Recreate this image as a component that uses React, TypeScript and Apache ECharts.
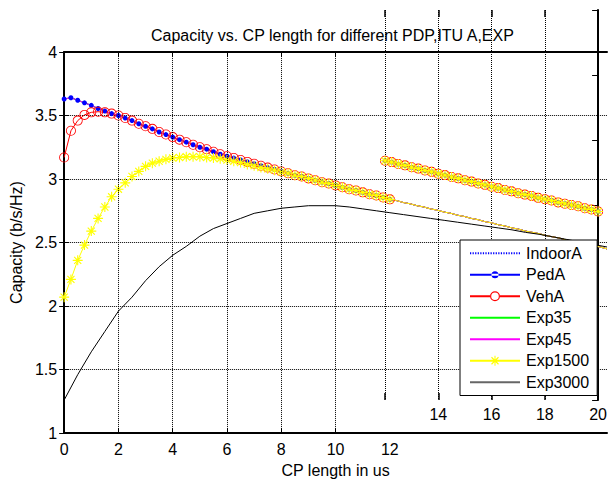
import { useEffect, useRef } from 'react';
import * as echarts from 'echarts';

const TITLE = 'Capacity vs. CP length for different PDP,ITU A,EXP';
const X_NAME = 'CP length in us';
const Y_NAME = 'Capacity (b/s/Hz)';

const seriesNames = ['IndoorA', 'PedA', 'VehA', 'Exp35', 'Exp45', 'Exp1500', 'Exp3000'];
const mainXTickLabels = [0, 2, 4, 6, 8, 10, 12];
const mainXTicks = [0, 2, 4, 6, 8, 10];
const mainXGrid = [2, 4, 6, 8, 10];
const insetXTickLabels = [14, 16, 18, 20];

// CP length samples (us)
const cpFine = [
  0, 0.25, 0.5, 0.75, 1, 1.25, 1.5, 1.75, 2, 2.25, 2.5, 2.75, 3, 3.25, 3.5, 3.75,
  4, 4.25, 4.5, 4.75, 5, 5.25, 5.5, 5.75, 6, 6.25, 6.5, 6.75, 7, 7.25, 7.5, 7.75,
  8, 8.25, 8.5, 8.75, 9, 9.25, 9.5, 9.75, 10, 10.25, 10.5, 10.75, 11, 11.25, 11.5, 11.75,
  12, 12.25, 12.5, 12.75, 13, 13.25, 13.5, 13.75, 14, 14.25, 14.5, 14.75, 15, 15.25, 15.5, 15.75,
  16, 16.25, 16.5, 16.75, 17, 17.25, 17.5, 17.75, 18, 18.25, 18.5, 18.75, 19, 19.25, 19.5, 19.75, 20,
];
const cpCoarse = [
  0, 0.5, 1, 1.5, 2, 2.5, 3, 3.5, 4, 4.5, 5, 5.5, 6, 6.5, 7, 7.5, 8, 8.5, 9, 9.5,
  10, 10.5, 11, 11.5, 12, 12.5, 13, 13.5, 14, 14.5, 15, 15.5, 16, 16.5, 17, 17.5, 18, 18.5, 19, 19.5, 20,
];

const pedA = [
  3.63, 3.64, 3.62, 3.6, 3.58, 3.555, 3.535, 3.515, 3.5, 3.48, 3.46, 3.435, 3.415, 3.395, 3.37, 3.35,
  3.33, 3.31, 3.29, 3.27, 3.25, 3.235, 3.215, 3.195, 3.18, 3.165, 3.15, 3.135, 3.12, 3.105, 3.09, 3.075,
  3.06, 3.045, 3.03, 3.02, 3.005, 2.99, 2.975, 2.965, 2.95, 2.935, 2.92, 2.91, 2.895, 2.88, 2.87, 2.855,
  2.84, 2.83, 2.815, 2.805, 2.79, 2.78, 2.765, 2.755, 2.74, 2.73, 2.715, 2.705, 2.69, 2.68, 2.665, 2.655,
  2.64, 2.63, 2.615, 2.605, 2.59, 2.58, 2.57, 2.555, 2.545, 2.535, 2.52, 2.51, 2.5, 2.49, 2.475, 2.465, 2.45,
];
const indoorA = pedA;
const exp35 = pedA;
const exp45 = pedA;
const vehA = [
  3.17, 3.38, 3.46, 3.505, 3.525, 3.53, 3.525, 3.515, 3.5, 3.48, 3.46, 3.435, 3.415, 3.395, 3.37, 3.35,
  3.33, 3.31, 3.29, 3.27, 3.25, 3.235, 3.215, 3.195, 3.18, 3.165, 3.15, 3.135, 3.12, 3.105, 3.09, 3.075,
  3.06, 3.045, 3.03, 3.02, 3.005, 2.99, 2.975, 2.965, 2.95, 2.935, 2.92, 2.91, 2.895, 2.88, 2.87, 2.855,
  2.84, 2.83, 2.815, 2.805, 2.79, 2.78, 2.765, 2.755, 2.74, 2.73, 2.715, 2.705, 2.69, 2.68, 2.665, 2.655,
  2.64, 2.63, 2.615, 2.605, 2.59, 2.58, 2.57, 2.555, 2.545, 2.535, 2.52, 2.51, 2.5, 2.49, 2.475, 2.465, 2.45,
];
const exp1500 = [
  2.07, 2.21, 2.36, 2.48, 2.59, 2.69, 2.78, 2.86, 2.92, 2.97, 3.02, 3.06, 3.1, 3.125, 3.14, 3.155,
  3.165, 3.17, 3.175, 3.175, 3.175, 3.17, 3.165, 3.16, 3.15, 3.14, 3.13, 3.115, 3.105, 3.09, 3.08, 3.07,
  3.055, 3.045, 3.03, 3.02, 3.005, 2.99, 2.975, 2.965, 2.95, 2.935, 2.92, 2.91, 2.895, 2.88, 2.87, 2.855,
  2.84, 2.83, 2.815, 2.805, 2.79, 2.78, 2.765, 2.755, 2.74, 2.73, 2.715, 2.705, 2.69, 2.68, 2.665, 2.655,
  2.64, 2.63, 2.615, 2.605, 2.59, 2.58, 2.57, 2.555, 2.545, 2.535, 2.52, 2.51, 2.5, 2.49, 2.475, 2.465, 2.45,
];
const exp3000 = [
  1.26, 1.46, 1.64, 1.8, 1.96, 2.07, 2.2, 2.31, 2.4, 2.47, 2.55, 2.61, 2.65, 2.69, 2.73, 2.75,
  2.77, 2.78, 2.79, 2.79, 2.79, 2.78, 2.765, 2.75, 2.735, 2.72, 2.705, 2.69, 2.675, 2.66, 2.645, 2.63,
  2.615, 2.6, 2.58, 2.565, 2.545, 2.525, 2.505, 2.485, 2.465,
];

const FONT = '"Liberation Sans", Arial, sans-serif';
const STAR =
  'path://M-1.1,-10L1.1,-10L1.1,10L-1.1,10Z M-10,-1.1L10,-1.1L10,1.1L-10,1.1Z M-7.9,-6.3L-6.3,-7.9L7.9,6.3L6.3,7.9Z M6.3,-7.9L7.9,-6.3L-6.3,7.9L-7.9,6.3Z';
const RING = 'path://M-10,0a10,10 0 1,0 20,0a10,10 0 1,0 -20,0z M-8.4,0a8.4,8.4 0 1,1 16.8,0a8.4,8.4 0 1,1 -16.8,0z';
const MARKER_LIMIT = 12;

// legend icons (shapes only)
const LINE_ICON = 'path://M0,6h50v2h-50z';
const DOT_LINE_ICON = (() => {
  let p = 'path://';
  for (let x = 0; x < 50; x += 2.5) p += `M${x},6h1.2v2h-1.2z `;
  return p;
})();
const PED_ICON = 'path://M0,6h50v2h-50z M21.5,7a3.5,3.5 0 1,0 7,0a3.5,3.5 0 1,0 -7,0z';
const VEH_ICON =
  'path://M0,6h20v2h-20z M30,6h20v2h-20z M20,7a5,5 0 1,0 10,0a5,5 0 1,0 -10,0z M21.2,7a3.8,3.8 0 1,1 7.6,0a3.8,3.8 0 1,1 -7.6,0z';
const STAR_ICON =
  'path://M0,6h50v2h-50z M24.5,2h1v10h-1z M21.1,3.9L21.9,3.1L28.9,10.1L28.1,10.9Z M28.1,3.1L28.9,3.9L21.9,10.9L21.1,10.1Z';

function mainData(xs: number[], ys: number[], markers: boolean) {
  return xs.map((x, i) =>
    markers && x <= MARKER_LIMIT ? [x, ys[i]] : { value: [x, ys[i]], symbol: 'none' }
  );
}
function insetData(xs: number[], ys: number[]) {
  const out: number[][] = [];
  xs.forEach((x, i) => {
    if (x >= MARKER_LIMIT) out.push([x, ys[i]]);
  });
  return out;
}

export default function App() {
  const ref = useRef<HTMLDivElement>(null);
  useEffect(() => {
    if (!ref.current) return;
    const chart = echarts.init(ref.current, null, { renderer: 'svg' });
    const black = '#000';
    const dotted = { color: black, width: 1, type: [1, 1] as any };
    const styles: Record<string, any> = {
      IndoorA: { color: '#0000ff', lineType: [1, 1], symbol: 'none', size: 0, icon: DOT_LINE_ICON },
      PedA: { color: '#0000ff', lineType: 'solid', symbol: 'circle', size: 5, icon: PED_ICON },
      VehA: { color: '#ff0000', lineType: 'solid', symbol: RING, size: 10, icon: VEH_ICON },
      Exp35: { color: '#00ff00', lineType: 'solid', symbol: 'none', size: 0, icon: LINE_ICON },
      Exp45: { color: '#ff00ff', lineType: 'solid', symbol: 'none', size: 0, icon: LINE_ICON },
      Exp1500: { color: '#ffff00', lineType: 'solid', symbol: STAR, size: 10, icon: STAR_ICON },
      Exp3000: { color: '#000000', lineType: 'solid', symbol: 'none', size: 0, icon: LINE_ICON, legendColor: '#666' },
    };
    const values: Record<string, number[]> = {
      IndoorA: indoorA, PedA: pedA, VehA: vehA, Exp35: exp35, Exp45: exp45, Exp1500: exp1500, Exp3000: exp3000,
    };
    const mkSeries = (name: string, inset: boolean) => {
      const s = styles[name];
      const xs = name === 'Exp3000' ? cpCoarse : cpFine;
      const hasMarker = s.symbol !== 'none';
      return {
        type: 'line',
        name,
        xAxisIndex: inset ? 2 : 0,
        yAxisIndex: inset ? 2 : 0,
        data: inset ? insetData(xs, values[name]) : mainData(xs, values[name], hasMarker),
        symbol: s.symbol,
        symbolSize: s.size,
        showSymbol: hasMarker,
        clip: inset,
        color: s.color,
        itemStyle: { color: s.color, borderWidth: 0 },
        lineStyle: { color: s.color, width: 1, type: s.lineType },
        emphasis: { disabled: true },
        silent: true,
      };
    };
    const mainSeries: any[] = seriesNames.map((n) => mkSeries(n, false));
    mainSeries[0].markLine = {
      silent: true,
      symbol: ['none', 'none'],
      label: { show: false },
      lineStyle: dotted,
      emphasis: { disabled: true },
      data: mainXGrid.map((v) => ({ xAxis: v })),
    };
    const insetSeries = ['PedA', 'VehA', 'Exp35', 'Exp45', 'Exp1500'].map((n) => mkSeries(n, true));

    const axisFont = { color: black, fontSize: 16, fontFamily: FONT };
    chart.setOption({
      animation: false,
      backgroundColor: '#fff',
      title: {
        text: TITLE,
        left: 151,
        top: 27,
        padding: 0,
        textStyle: { color: black, fontSize: 16, fontWeight: 'normal', fontFamily: FONT },
      },
      legend: {
        orient: 'vertical',
        left: 460,
        top: 240,
        padding: [5, 8, 5, 10],
        itemWidth: 50,
        itemHeight: 14,
        itemGap: 5,
        backgroundColor: '#fff',
        borderColor: black,
        borderWidth: 1,
        borderRadius: 0,
        selectedMode: false,
        textStyle: { color: black, fontSize: 16, fontFamily: FONT, lineHeight: 16.5, padding: [0, 0, 0, 1] },
        data: seriesNames.map((n) => ({
          name: n,
          icon: styles[n].icon,
          itemStyle: { color: styles[n].legendColor || styles[n].color, borderWidth: 0 },
        })),
      },
      grid: [
        { left: 62, top: 52, width: 545, height: 390, containLabel: false },
        { left: 385, top: 10, width: 218, height: 390, containLabel: false },
      ],
      xAxis: [
        {
          gridIndex: 0, type: 'value', min: 0, max: 20, interval: 2,
          axisLine: { lineStyle: { color: black, width: 2 } },
          axisTick: { inside: true, length: 5, customValues: mainXTicks, lineStyle: { color: black } },
          axisLabel: { ...axisFont, margin: 8, customValues: mainXTickLabels },
          splitLine: { show: false },
          name: X_NAME, nameLocation: 'middle', nameGap: 25,
          nameTextStyle: axisFont,
        },
        {
          gridIndex: 0, type: 'value', min: 0, max: 20, interval: 2, position: 'top',
          axisLine: { lineStyle: { color: black, width: 2 } },
          axisTick: { inside: true, length: 5, customValues: mainXTicks, lineStyle: { color: black } },
          axisLabel: { show: false },
          splitLine: { show: false },
        },
        {
          gridIndex: 1, type: 'value', min: 12, max: 20, interval: 2,
          axisLine: { show: false },
          axisTick: { show: true, inside: true, length: 7, lineStyle: { color: black, width: 1.5 } },
          axisLabel: { ...axisFont, margin: 6, customValues: insetXTickLabels },
          splitLine: { show: true, showMaxLine: false, lineStyle: dotted },
        },
        {
          gridIndex: 1, type: 'value', min: 12, max: 20, interval: 2, position: 'top',
          axisLine: { show: false },
          axisTick: { show: true, inside: true, length: 7, lineStyle: { color: black, width: 1.5 } },
          axisLabel: { show: false },
          splitLine: { show: false },
        },
      ],
      yAxis: [
        {
          gridIndex: 0, type: 'value', min: 1, max: 4, interval: 0.5,
          axisLine: { show: true, lineStyle: { color: black, width: 2 } },
          axisTick: { show: true, inside: true, length: 5, lineStyle: { color: black } },
          axisLabel: { ...axisFont, margin: 7 },
          splitLine: { show: true, showMinLine: false, showMaxLine: false, lineStyle: dotted },
          name: Y_NAME, nameLocation: 'middle', nameGap: 35, nameRotate: 90,
          nameTextStyle: axisFont,
        },
        {
          gridIndex: 0, type: 'value', min: 1, max: 4, interval: 0.5, position: 'right',
          axisLine: { show: false },
          axisTick: { show: true, inside: true, length: 5, lineStyle: { color: black } },
          axisLabel: { show: false },
          splitLine: { show: false },
        },
        {
          gridIndex: 1, type: 'value', min: 1, max: 4, interval: 0.5, position: 'right',
          axisLine: { show: true, lineStyle: { color: black, width: 2 } },
          axisTick: { show: true, inside: true, length: 6, lineStyle: { color: black } },
          axisLabel: { show: false },
          splitLine: { show: false },
        },
      ],
      series: [...mainSeries, ...insetSeries],
    });
    return () => chart.dispose();
  }, []);
  return (
    <div
      ref={ref}
      style={{ position: 'fixed', left: 0, top: 0, width: 610, height: 483, background: '#fff' }}
    />
  );
}
